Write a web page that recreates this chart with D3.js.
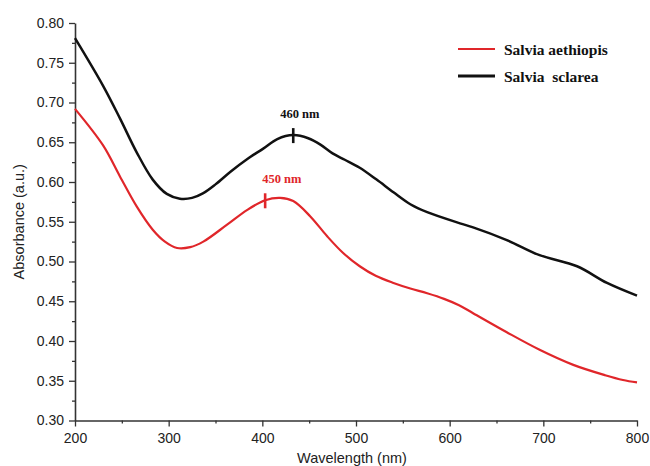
<!DOCTYPE html>
<html lang="en">
<head>
    <meta charset="utf-8">
    <title>UV-Vis absorbance of Salvia extracts</title>
    <style>
        body {
            margin: 0;
            padding: 0;
            background: #fff;
        }
        .tick text {
            font-family: "Liberation Sans", Arial, sans-serif;
            font-size: 14px;
            fill: #222;
        }
        .axis-title {
            font-family: "Liberation Sans", Arial, sans-serif;
            font-size: 14.5px;
            fill: #222;
        }
        .serif-bold {
            font-family: "Liberation Serif", "Times New Roman", serif;
            font-weight: bold;
        }
    </style>
</head>
<body>

<div id="chart"></div>

<script src="https://d3js.org/d3.v7.min.js"></script>

<script>
  // Salvia sclarea (black)
  const sclareaWl  = [200, 230, 248, 266, 283, 298, 312, 325, 337, 350, 366, 384, 401, 416, 433, 449, 462, 475, 488, 504, 522, 540, 558, 576, 611, 625, 661, 696, 736, 768, 800];
  const sclareaAbs = [0.781, 0.721, 0.680, 0.637, 0.603, 0.585, 0.579, 0.580, 0.586, 0.597, 0.613, 0.629, 0.642, 0.654, 0.659, 0.655, 0.647, 0.636, 0.628, 0.618, 0.603, 0.587, 0.572, 0.562, 0.548, 0.543, 0.527, 0.508, 0.494, 0.473, 0.457];

  // Salvia aethiopis (red)
  const aethWl  = [200, 230, 248, 266, 283, 296, 309, 323, 337, 362, 384, 403, 419, 433, 451, 469, 486, 504, 521, 540, 558, 576, 594, 610, 625, 661, 696, 732, 766, 785, 800];
  const aethAbs = [0.692, 0.646, 0.607, 0.569, 0.540, 0.525, 0.517, 0.518, 0.525, 0.546, 0.565, 0.577, 0.580, 0.576, 0.557, 0.532, 0.511, 0.494, 0.482, 0.473, 0.466, 0.460, 0.453, 0.445, 0.435, 0.411, 0.389, 0.370, 0.357, 0.351, 0.348];

  // peak markers drawn on the curves
  const peakMarks = [
    { wl: 433, abs: 0.659, label: "460 nm", color: "#111", dx: -13 },
    { wl: 403, abs: 0.577, label: "450 nm", color: "#e0262a", dx: -3 }
  ];

  const xTicks = [200, 300, 400, 500, 600, 700, 800];
  const yTicks = [0.30, 0.35, 0.40, 0.45, 0.50, 0.55, 0.60, 0.65, 0.70, 0.75, 0.80];

  const width = 650, height = 466;
  const margin = { left: 75, right: 13, top: 23, bottom: 45.5 };

  const svg = d3.select("#chart")
    .append("svg")
    .attr("width", width)
    .attr("height", height);

  const x = d3.scaleLinear()
    .domain([200, 800])
    .range([margin.left, width - margin.right]);

  const y = d3.scaleLinear()
    .domain([0.30, 0.80])
    .range([height - margin.bottom, margin.top]);

  // minor ticks (no labels)
  const xMinor = d3.range(250, 800, 100);
  const yMinor = d3.range(0.325, 0.80, 0.05);

  svg.append("g")
    .attr("transform", `translate(0,${y(0.30)})`)
    .call(d3.axisBottom(x).tickValues(xMinor).tickSize(3).tickFormat(""))
    .call(g => g.select(".domain").remove())
    .call(g => g.selectAll("line").attr("stroke", "#333").attr("stroke-width", 1.3));

  svg.append("g")
    .attr("transform", `translate(${x(200)},0)`)
    .call(d3.axisLeft(y).tickValues(yMinor).tickSize(3).tickFormat(""))
    .call(g => g.select(".domain").remove())
    .call(g => g.selectAll("line").attr("stroke", "#333").attr("stroke-width", 1.3));

  // major axes
  svg.append("g")
    .attr("transform", `translate(0,${y(0.30)})`)
    .call(d3.axisBottom(x).tickValues(xTicks).tickSize(6).tickSizeOuter(0).tickPadding(7).tickFormat(d3.format("d")))
    .call(g => g.select(".domain").attr("stroke", "#333").attr("stroke-width", 1.6))
    .call(g => g.selectAll("line").attr("stroke", "#333").attr("stroke-width", 1.3));

  svg.append("g")
    .attr("transform", `translate(${x(200)},0)`)
    .call(d3.axisLeft(y).tickValues(yTicks).tickSize(6).tickSizeOuter(0).tickPadding(5).tickFormat(d3.format(".2f")))
    .call(g => g.select(".domain").attr("stroke", "#333").attr("stroke-width", 1.6))
    .call(g => g.selectAll("line").attr("stroke", "#333").attr("stroke-width", 1.3));

  // axis titles
  svg.append("text")
    .attr("class", "axis-title")
    .attr("x", (x(200) + x(800)) / 2 - 4)
    .attr("y", 463)
    .attr("text-anchor", "middle")
    .text("Wavelength (nm)");

  svg.append("text")
    .attr("class", "axis-title")
    .attr("transform", `translate(24,${(y(0.30) + y(0.80)) / 2}) rotate(-90)`)
    .attr("text-anchor", "middle")
    .text("Absorbance (a.u.)");

  // curves
  const line = d3.line()
    .x(d => x(d[0]))
    .y(d => y(d[1]))
    .curve(d3.curveCatmullRom.alpha(0.5));

  svg.append("path")
    .datum(d3.zip(aethWl, aethAbs))
    .attr("d", line)
    .attr("fill", "none")
    .attr("stroke", "#e0262a")
    .attr("stroke-width", 2.2);

  svg.append("path")
    .datum(d3.zip(sclareaWl, sclareaAbs))
    .attr("d", line)
    .attr("fill", "none")
    .attr("stroke", "#111")
    .attr("stroke-width", 2.5);

  // peak markers
  peakMarks.forEach(p => {
    svg.append("line")
      .attr("x1", x(p.wl)).attr("x2", x(p.wl))
      .attr("y1", y(p.abs) - 7).attr("y2", y(p.abs) + 8)
      .attr("stroke", p.color)
      .attr("stroke-width", 2.6);
    svg.append("text")
      .attr("class", "serif-bold")
      .attr("x", x(p.wl) + p.dx)
      .attr("y", y(p.abs) - 17)
      .attr("font-size", 12.5)
      .attr("fill", p.color)
      .text(p.label);
  });

  // legend
  const legend = [
    { name: "Salvia aethiopis", color: "#e0262a", w: 2, ly: 49 },
    { name: "Salvia  sclarea", color: "#111", w: 3, ly: 76 }
  ];
  legend.forEach(l => {
    svg.append("line")
      .attr("x1", 458).attr("x2", 495)
      .attr("y1", l.ly).attr("y2", l.ly)
      .attr("stroke", l.color)
      .attr("stroke-width", l.w);
    svg.append("text")
      .attr("class", "serif-bold")
      .attr("x", 504)
      .attr("y", l.ly + 6)
      .attr("font-size", 15.5)
      .attr("fill", "#111")
      .style("white-space", "pre")
      .text(l.name);
  });
</script>

</body>
</html>
